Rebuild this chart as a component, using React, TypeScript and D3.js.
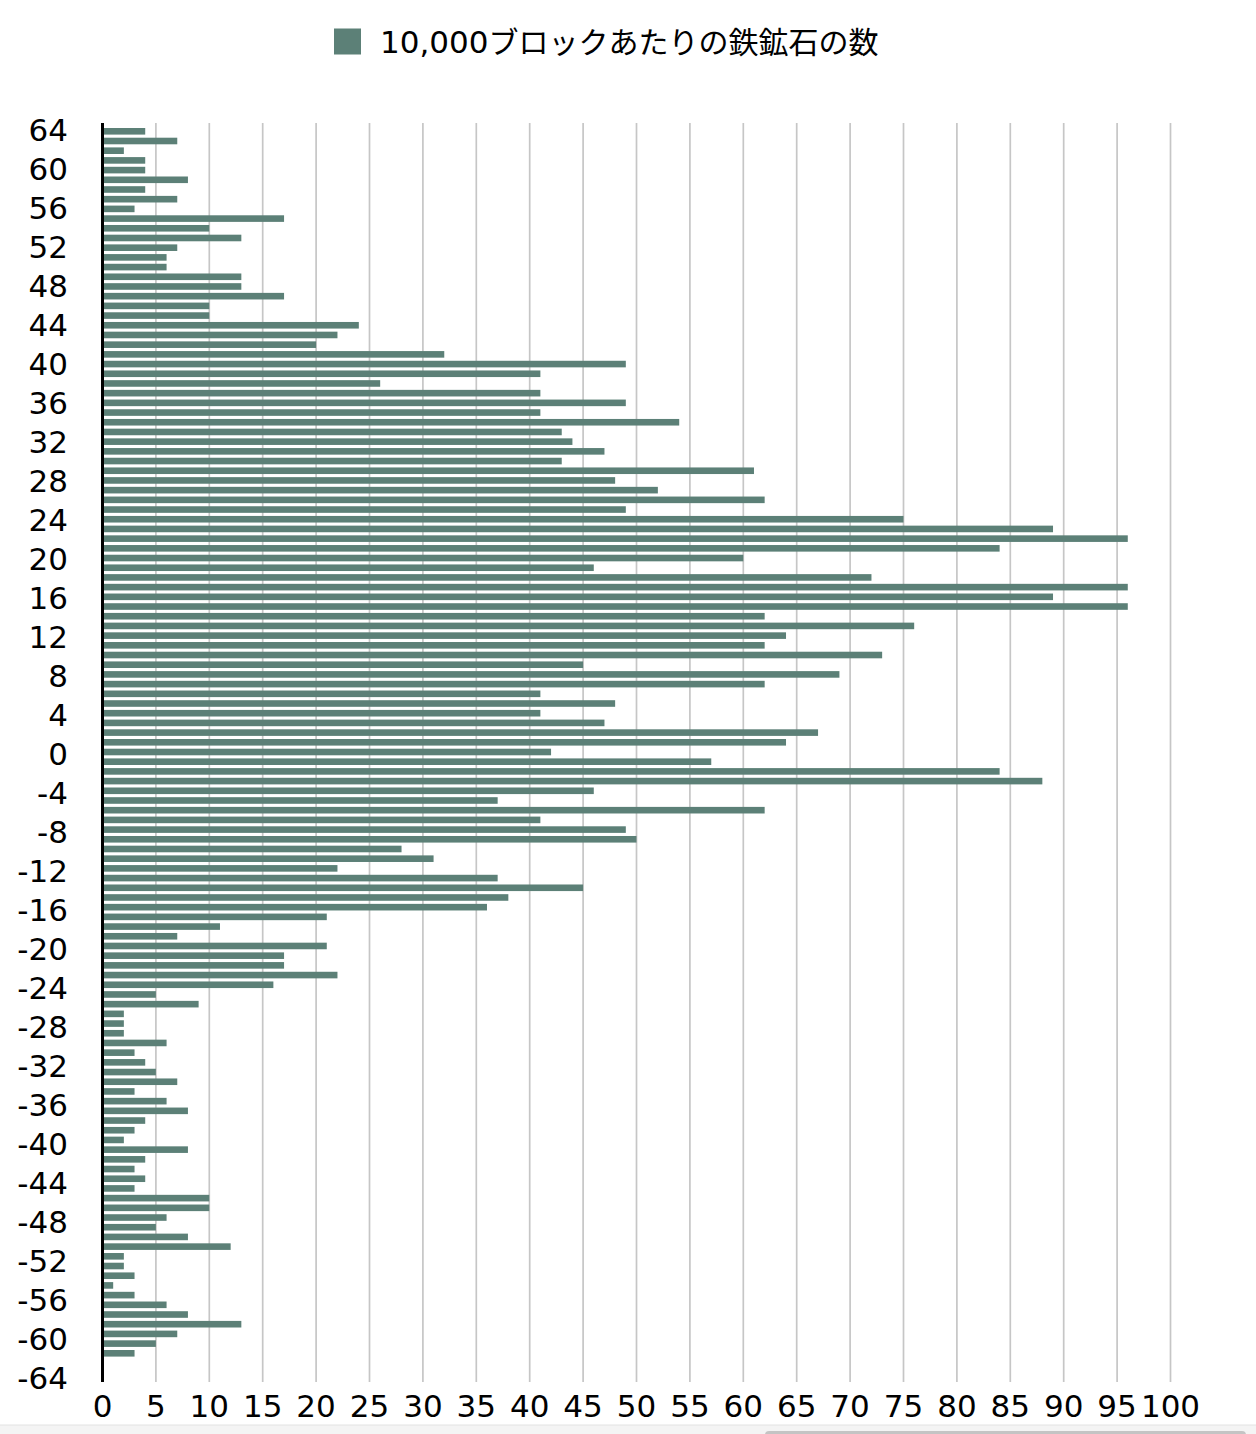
import { useEffect, useRef } from 'react'
import * as d3 from 'd3'

// y levels, top (64) to bottom (-62)
const levels = d3.range(64, -63, -1)

// iron ore count per 10,000 blocks, one value per level (64 .. -62)
const ironCounts = [
  4, 7, 2, 4, 4, 8, 4, 7, 3, 17, 10, 13, 7, 6, 6, 13, 13, 17, 10, 10, 24, 22, 20, 32,
  49, 41, 26, 41, 49, 41, 54, 43, 44, 47, 43, 61, 48, 52, 62, 49,
  75, 89, 96, 84, 60, 46, 72, 96, 89, 96, 62, 76, 64, 62, 73, 45,
  69, 62, 41, 48, 41, 47, 67, 64, 42, 57, 84, 88, 46, 37, 62, 41,
  49, 50, 28, 31, 22, 37, 45, 38, 36, 21, 11, 7, 21, 17, 17, 22,
  16, 5, 9, 2, 2, 2, 6, 3, 4, 5, 7, 3, 6, 8, 4, 3,
  2, 8, 4, 3, 4, 3, 10, 10, 6, 5, 8, 12, 2, 2, 3, 1,
  3, 6, 8, 13, 7, 5, 3,
]

const yTickLabels = [64, 60, 56, 52, 48, 44, 40, 36, 32, 28, 24, 20, 16, 12, 8, 4, 0, -4, -8, -12, -16, -20, -24, -28, -32, -36, -40, -44, -48, -52, -56, -60, -64]
const xTickLabels = [0, 5, 10, 15, 20, 25, 30, 35, 40, 45, 50, 55, 60, 65, 70, 75, 80, 85, 90, 95, 100]

const seriesNumber = '10,000'
const seriesText = 'ブロックあたりの鉄鉱石の数'

const BAR_COLOR = '#5c8077'
const NUM_FONT = '"DejaVu Sans", "Noto Sans CJK JP", sans-serif'
const CJK_FONT = '"Noto Sans CJK JP", sans-serif'

export default function App() {
  const svgRef = useRef<SVGSVGElement>(null)

  useEffect(() => {
    if (!svgRef.current) return
    const width = 1256
    const height = 1434
    const plotTop = 123
    const plotBottom = 1382

    const svg = d3.select(svgRef.current)
    svg.selectAll('*').remove()
    svg.attr('width', width).attr('height', height)

    svg.append('rect').attr('width', width).attr('height', height).attr('fill', '#fff')

    const data = levels.map((lv, i) => ({ level: lv, value: ironCounts[i] }))

    const xScale = d3.scaleLinear().domain([0, 100]).range([102.5, 1170.5])
    const yBand = d3.scaleBand<number>()
      .domain(levels)
      .range([126.45, 1358.15])
      .paddingInner(0.32)
      .paddingOuter(0.16)
    // tick labels sit on their own linear scale (slightly wider spacing than the bars)
    const yLabel = d3.scaleLinear().domain([64, -64]).range([130, 1377.5])

    // Grid
    svg.append('g')
      .selectAll('line')
      .data(xTickLabels.filter(d => d > 0))
      .enter().append('line')
      .attr('x1', d => xScale(d)).attr('x2', d => xScale(d))
      .attr('y1', plotTop).attr('y2', plotBottom)
      .attr('stroke', '#c6c6c6').attr('stroke-width', 1.7)

    // Bars
    svg.append('g')
      .selectAll('rect')
      .data(data)
      .enter().append('rect')
      .attr('x', xScale(0))
      .attr('y', d => yBand(d.level)!)
      .attr('width', d => xScale(d.value) - xScale(0))
      .attr('height', yBand.bandwidth())
      .attr('fill', BAR_COLOR)

    // Axis line
    svg.append('line')
      .attr('x1', xScale(0)).attr('x2', xScale(0))
      .attr('y1', plotTop).attr('y2', plotBottom)
      .attr('stroke', '#000').attr('stroke-width', 3)

    // Y labels
    svg.append('g')
      .selectAll('text')
      .data(yTickLabels)
      .enter().append('text')
      .attr('x', 68)
      .attr('y', d => yLabel(d) + 11.3)
      .attr('text-anchor', 'end')
      .attr('font-family', NUM_FONT)
      .attr('font-size', 31)
      .attr('fill', '#000')
      .text(d => String(d))

    // X labels
    svg.append('g')
      .selectAll('text')
      .data(xTickLabels)
      .enter().append('text')
      .attr('x', d => xScale(d))
      .attr('y', 1417)
      .attr('text-anchor', 'middle')
      .attr('font-family', NUM_FONT)
      .attr('font-size', 31)
      .attr('fill', '#000')
      .text(d => String(d))

    // Legend
    const legend = svg.append('g').attr('transform', 'translate(334, 28.5)')
    legend.append('rect').attr('width', 27).attr('height', 26).attr('fill', BAR_COLOR)
    const label = legend.append('text')
      .attr('x', 46).attr('y', 24.8)
      .attr('fill', '#000')
    label.append('tspan').attr('font-family', NUM_FONT).attr('font-size', 31).text(seriesNumber)
    label.append('tspan').attr('font-family', CJK_FONT).attr('font-size', 30).text(seriesText)

    // window strip at the bottom edge
    svg.append('rect').attr('x', 0).attr('y', 1425).attr('width', width).attr('height', 9).attr('fill', '#f4f4f4')
    svg.append('line').attr('x1', 0).attr('x2', width).attr('y1', 1425).attr('y2', 1425).attr('stroke', '#e2e2e2').attr('stroke-width', 1)
    svg.append('rect').attr('x', 765).attr('y', 1431).attr('width', 481).attr('height', 8).attr('rx', 4).attr('fill', '#c4c4c4')
  }, [])

  return (
    <div style={{ position: 'absolute', left: 0, top: 0 }}>
      <svg ref={svgRef} style={{ display: 'block' }} />
    </div>
  )
}
